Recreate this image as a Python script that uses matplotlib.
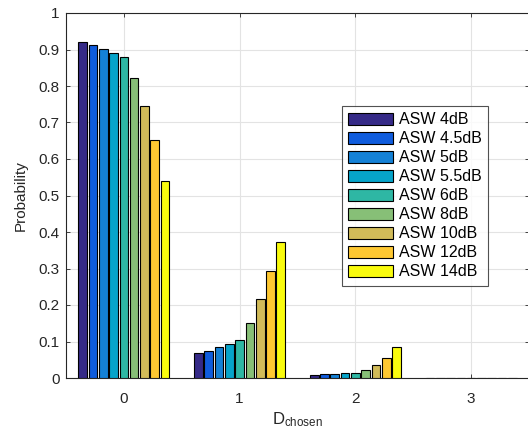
import matplotlib.pyplot as plt
import numpy as np

plt.rcParams['font.family'] = ['Liberation Sans', 'DejaVu Sans']
plt.rcParams['mathtext.fontset'] = 'custom'
plt.rcParams['mathtext.rm'] = 'Liberation Sans'
plt.rcParams['mathtext.it'] = 'Liberation Sans'

# probability of each chosen D, one list per ASW level
d_chosen = [0, 1, 2, 3]
labels = ['ASW 4dB', 'ASW 4.5dB', 'ASW 5dB', 'ASW 5.5dB', 'ASW 6dB',
          'ASW 8dB', 'ASW 10dB', 'ASW 12dB', 'ASW 14dB']
asw_4 = [0.921, 0.068, 0.008, 0.0005]
asw_4_5 = [0.912, 0.075, 0.010, 0.0005]
asw_5 = [0.902, 0.084, 0.012, 0.0005]
asw_5_5 = [0.891, 0.093, 0.013, 0.0005]
asw_6 = [0.880, 0.104, 0.015, 0.0005]
asw_8 = [0.823, 0.151, 0.022, 0.0005]
asw_10 = [0.746, 0.216, 0.036, 0.0005]
asw_12 = [0.651, 0.293, 0.055, 0.0005]
asw_14 = [0.540, 0.373, 0.085, 0.0005]
series = [asw_4, asw_4_5, asw_5, asw_5_5, asw_6, asw_8, asw_10, asw_12, asw_14]

# parula samples
colors = ['#352a87', '#0f5cdd', '#1481d6', '#06a4ca', '#2eb7a4',
          '#87bf77', '#d1bb59', '#fec832', '#f9fb0e']

fig = plt.figure(figsize=(5.28, 4.37), dpi=100)
ax = fig.add_axes([66/528, 59/437, 463/528, 365/437])

n = len(series)
step = 0.8 / n
x = np.array(d_chosen, dtype=float)
for i, (vals, lab, c) in enumerate(zip(series, labels, colors)):
    off = (i - (n - 1) / 2) * step
    ax.bar(x + off, vals, width=step * 0.84, color=c, edgecolor='k',
           linewidth=0.8, label=lab, zorder=3)

ax.set_xlim(-0.5, 3.5)
ax.set_ylim(0, 1)
ax.set_xticks(d_chosen)
ax.set_yticks(np.arange(0, 1.01, 0.1))
ax.set_yticklabels(['0', '0.1', '0.2', '0.3', '0.4', '0.5', '0.6', '0.7',
                    '0.8', '0.9', '1'])
ax.tick_params(direction='in', top=True, right=True, labelsize=11,
               length=3, width=0.6, colors='#262626')
ax.tick_params(axis='x', pad=10)
ax.tick_params(axis='y', pad=4.5)
ax.grid(True, color='#e3e3e3', linewidth=0.8, zorder=0)
ax.set_axisbelow(True)
for s in ax.spines.values():
    s.set_color('#262626')
    s.set_linewidth(0.8)

ax.set_xlabel(r'D$_{\mathrm{chosen}}$', fontsize=12, color='#262626', labelpad=3)
ax.set_ylabel('Probability', fontsize=11, color='#262626', labelpad=8)

leg = ax.legend(loc='upper left', bbox_to_anchor=(0.596, 0.745),
                fontsize=11.5, frameon=True, fancybox=False, edgecolor='#262626',
                handlelength=2.8, handleheight=0.85, handletextpad=0.35,
                labelspacing=0.25, borderpad=0.4, borderaxespad=0)
leg.get_frame().set_linewidth(0.8)

fig.savefig('out.png', dpi=100)
